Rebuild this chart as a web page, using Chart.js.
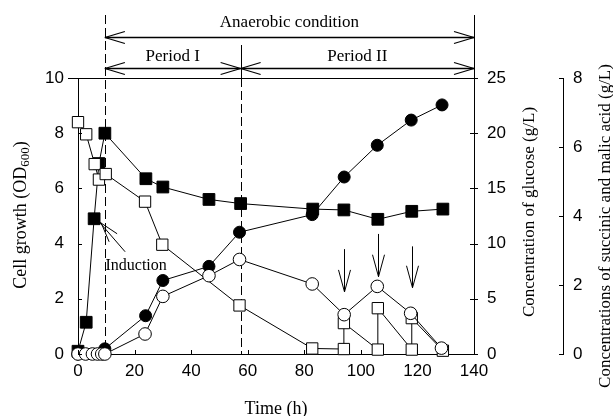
<!DOCTYPE html>
<html><head><meta charset="utf-8">
<script src="https://cdn.jsdelivr.net/npm/chart.js@4.4.1/dist/chart.umd.min.js"></script>
<style>html,body{margin:0;padding:0;background:#fff;overflow:hidden}#wrap{width:613px;height:416px;position:relative}</style>
</head><body><div id="wrap"><canvas id="c" width="613" height="416"></canvas></div>
<script>
// ---- data ----
const cellTime    = [0, 2.9, 5.7, 7.4, 9.5, 24, 30, 46.3, 57.5, 83, 94, 106, 118, 129];
const cellOD      = [0.1, 1.15, 4.9, 6.9, 8.0, 6.35, 6.05, 5.6, 5.45, 5.25, 5.22, 4.88, 5.17, 5.25];
const glucoseTime = [0, 2.9, 5.9, 7.4, 9.8, 23.7, 29.8, 57.1, 82.8, 94, 94, 106, 106, 118, 118, 129];
const glucose     = [21.0, 19.9, 17.2, 15.8, 16.3, 13.8, 9.9, 4.4, 0.5, 0.45, 2.8, 0.4, 4.15, 0.4, 3.25, 0.3];
const succTime    = [0, 9.5, 23.9, 30, 46.3, 57.1, 82.8, 94.1, 105.8, 117.8, 128.7];
const succinic    = [0, 0.15, 1.11, 2.13, 2.54, 3.53, 4.04, 5.13, 6.05, 6.78, 7.22];
const malicTime   = [0, 2.7, 5.1, 6.9, 8.4, 9.5, 23.7, 30, 46.3, 57.1, 82.8, 94.1, 105.8, 117.6, 128.5];
const malic       = [0, 0, 0, 0, 0, 0, 0.58, 1.67, 2.27, 2.74, 2.03, 1.14, 1.96, 1.18, 0.17];
const xTicks      = [0, 20, 40, 60, 80, 100, 120, 140];
const odTicks     = [0, 2, 4, 6, 8, 10];
const gluTicks    = [0, 5, 10, 15, 20, 25];
const acidTicks   = [0, 2, 4, 6, 8];
// annotations (time values, cell-growth units)
const phaseTimes  = [9.5, 57.5, 140];          // anaerobic start, period boundary, end
const feedTimes   = [94, 106, 118];
const feedTop     = [3.8, 4.35, 3.9];
const feedTip     = [2.25, 2.8, 2.4];
const inductionT  = 5.7, inductionOD = 4.9;

const pts = (xs, ys) => xs.map((x, i) => ({x, y: ys[i]}));
const SANS = '"Liberation Sans", Arial, sans-serif';
const SERIF = '"Liberation Serif", "Times New Roman", serif';

function seg(ctx, x1, y1, x2, y2) { ctx.beginPath(); ctx.moveTo(x1, y1); ctx.lineTo(x2, y2); ctx.stroke(); }
function hHead(ctx, x, y, dir) { // open V head, dir=-1 points left, 1 points right
  seg(ctx, x, y, x - dir * 20, y - 6); seg(ctx, x, y, x - dir * 20, y + 6);
}

const deco = {
  id: 'deco',
  beforeDatasetsDraw(chart) {
    const ctx = chart.ctx, xs = chart.scales.x, ca = chart.chartArea;
    ctx.save();
    ctx.strokeStyle = '#000'; ctx.lineWidth = 1;
    ctx.setLineDash([9, 4]);
    const xa = Math.round(xs.getPixelForValue(phaseTimes[0])) + 0.5;
    const xb = Math.round(xs.getPixelForValue(phaseTimes[1])) + 0.5;
    seg(ctx, xa, 15, xa, ca.bottom);
    seg(ctx, xb, ca.top, xb, ca.bottom);
    ctx.setLineDash([]);
    seg(ctx, xb, 45, xb, ca.top);
    ctx.restore();
  },
  afterDraw(chart) {
    const ctx = chart.ctx, xs = chart.scales.x, ys = chart.scales.y, ca = chart.chartArea;
    const y2 = chart.scales.y2, y3 = chart.scales.y3;
    ctx.save();
    ctx.strokeStyle = '#000'; ctx.fillStyle = '#000'; ctx.lineWidth = 1;
    // top border and right axis extension
    seg(ctx, ca.left - 10, ca.top + 0.5, ca.right, ca.top + 0.5);
    seg(ctx, ca.right + 0.5, 15, ca.right + 0.5, ca.top);
    // inward ticks
    xTicks.forEach(t => { const x = Math.round(xs.getPixelForValue(t)) + 0.5; seg(ctx, x, ca.bottom, x, ca.bottom - 4); });
    odTicks.forEach(v => { const y = Math.round(ys.getPixelForValue(v)) + 0.5; seg(ctx, ca.left, y, ca.left + 4, y); });
    gluTicks.forEach(v => { const y = Math.round(y2.getPixelForValue(v)) + 0.5; seg(ctx, ca.right - 4, y, ca.right + 4, y); });
    acidTicks.forEach(v => { const y = Math.round(y3.getPixelForValue(v)) + 0.5; seg(ctx, y3.left - 4, y, y3.left, y); });
    // phase arrows
    const xa = xs.getPixelForValue(phaseTimes[0]), xb = xs.getPixelForValue(phaseTimes[1]), xc = xs.getPixelForValue(phaseTimes[2]);
    ctx.lineWidth = 1.3;
    seg(ctx, xa, 37.5, xc, 37.5); hHead(ctx, xa, 37.5, -1); hHead(ctx, xc, 37.5, 1);
    seg(ctx, xa, 68.5, xb, 68.5); hHead(ctx, xa, 68.5, -1); hHead(ctx, xb, 68.5, 1);
    seg(ctx, xb, 68.5, xc, 68.5); hHead(ctx, xb, 68.5, -1); hHead(ctx, xc, 68.5, 1);
    ctx.lineWidth = 1;
    ctx.font = '17px ' + SERIF; ctx.textAlign = 'center'; ctx.textBaseline = 'middle';
    ctx.fillText('Anaerobic condition', (xa + xc) / 2, 23);
    ctx.fillText('Period I', (xa + xb) / 2, 57);
    ctx.fillText('Period II', (xb + xc) / 2, 57);
    // feeding arrows
    feedTimes.forEach((t, i) => {
      const x = Math.round(xs.getPixelForValue(t)) + 0.5;
      const yt = ys.getPixelForValue(feedTop[i]), yp = ys.getPixelForValue(feedTip[i]);
      seg(ctx, x, yt, x, yp);
      seg(ctx, x, yp, x - 6, yp - 22); seg(ctx, x, yp, x + 6, yp - 22);
    });
    // induction
    const ix = xs.getPixelForValue(inductionT), iy = ys.getPixelForValue(inductionOD);
    seg(ctx, ix + 5, iy + 3, ix + 23, iy + 15);
    seg(ctx, ix + 5, iy + 3, ix + 31, iy + 33);
    seg(ctx, ix + 7, iy + 4, ix + 15, iy + 23);
    ctx.font = '16px ' + SERIF;
    ctx.fillText('Induction', ix + 42, iy + 47);
    // axis titles
    ctx.font = '18px ' + SERIF;
    ctx.fillText('Time (h)', (ca.left + ca.right) / 2, 409);
    // left title with subscript
    ctx.save();
    ctx.translate(21, 215); ctx.rotate(-Math.PI / 2);
    const main = 'Cell growth (OD', close = ')';
    ctx.font = '18px ' + SERIF; const w1 = ctx.measureText(main).width, w3 = ctx.measureText(close).width;
    ctx.font = '13px ' + SERIF; const w2 = ctx.measureText('600').width;
    const tot = w1 + w2 + w3; let x0 = -tot / 2;
    ctx.textAlign = 'left';
    ctx.font = '18px ' + SERIF; ctx.fillText(main, x0, 0);
    ctx.font = '13px ' + SERIF; ctx.fillText('600', x0 + w1, 5);
    ctx.font = '18px ' + SERIF; ctx.fillText(close, x0 + w1 + w2, 0);
    ctx.restore();
    ctx.font = '17px ' + SERIF;
    ctx.save(); ctx.translate(530, 212); ctx.rotate(-Math.PI / 2);
    ctx.fillText('Concentration of glucose (g/L)', 0, 0); ctx.restore();
    ctx.save(); ctx.translate(606, 226); ctx.rotate(-Math.PI / 2);
    ctx.fillText('Concentrations of succinic and malic acid (g/L)', 0, 0); ctx.restore();
    ctx.restore();
  }
};

const tickFont = {family: SANS, size: 17};
function axisCommon(extra) {
  return Object.assign({
    grid: {display: false, drawTicks: false},
    border: {display: true, color: '#000', width: 1},
  }, extra);
}

new Chart(document.getElementById('c'), {
  type: 'line',
  data: {
    datasets: [
      {label: 'Malic acid', data: pts(malicTime, malic), yAxisID: 'y3', clip: false,
       borderColor: '#000', borderWidth: 1, backgroundColor: '#fff', pointStyle: 'circle',
       pointRadius: 6.3, pointBorderWidth: 1, pointBorderColor: '#000', pointBackgroundColor: '#fff'},
      {label: 'Glucose', data: pts(glucoseTime, glucose), yAxisID: 'y2', clip: false,
       borderColor: '#000', borderWidth: 1, pointStyle: 'rect',
       pointRadius: 8, pointBorderWidth: 1, pointBorderColor: '#000', pointBackgroundColor: '#fff'},
      {label: 'Succinic acid', data: pts(succTime, succinic), yAxisID: 'y3', clip: false,
       borderColor: '#000', borderWidth: 1, pointStyle: 'circle',
       pointRadius: 6, pointBorderWidth: 1, pointBorderColor: '#000', pointBackgroundColor: '#000'},
      {label: 'Cell growth', data: pts(cellTime, cellOD), yAxisID: 'y', clip: false,
       borderColor: '#000', borderWidth: 1, pointStyle: 'rect',
       pointRadius: 8.3, pointBorderWidth: 1, pointBorderColor: '#000', pointBackgroundColor: '#000'}
    ]
  },
  options: {
    responsive: false, animation: false, devicePixelRatio: 1,
    layout: {padding: {top: 78, left: 0, right: 0, bottom: 0}},
    plugins: {legend: {display: false}, tooltip: {enabled: false}},
    elements: {line: {tension: 0, fill: false}},
    scales: {
      x: axisCommon({type: 'linear', position: 'bottom', min: 0, max: 140,
        afterFit: s => { s.height = 62; },
        afterBuildTicks: s => { s.ticks = xTicks.map(v => ({value: v})); },
        ticks: {font: tickFont, color: '#000', padding: 7, maxRotation: 0}}),
      y: axisCommon({type: 'linear', position: 'left', min: 0, max: 10,
        afterFit: s => { s.width = 78; },
        afterBuildTicks: s => { s.ticks = odTicks.map(v => ({value: v})); },
        ticks: {font: tickFont, color: '#000', padding: 14}}),
      y2: axisCommon({type: 'linear', position: 'right', min: 0, max: 25,
        afterFit: s => { s.width = 89; },
        afterBuildTicks: s => { s.ticks = gluTicks.map(v => ({value: v})); },
        ticks: {font: tickFont, color: '#000', padding: 13}}),
      y3: axisCommon({type: 'linear', position: 'right', min: 0, max: 8,
        afterFit: s => { s.width = 50; },
        afterBuildTicks: s => { s.ticks = acidTicks.map(v => ({value: v})); },
        ticks: {font: tickFont, color: '#000', padding: 10}})
    }
  },
  plugins: [deco]
});
</script></body></html>
